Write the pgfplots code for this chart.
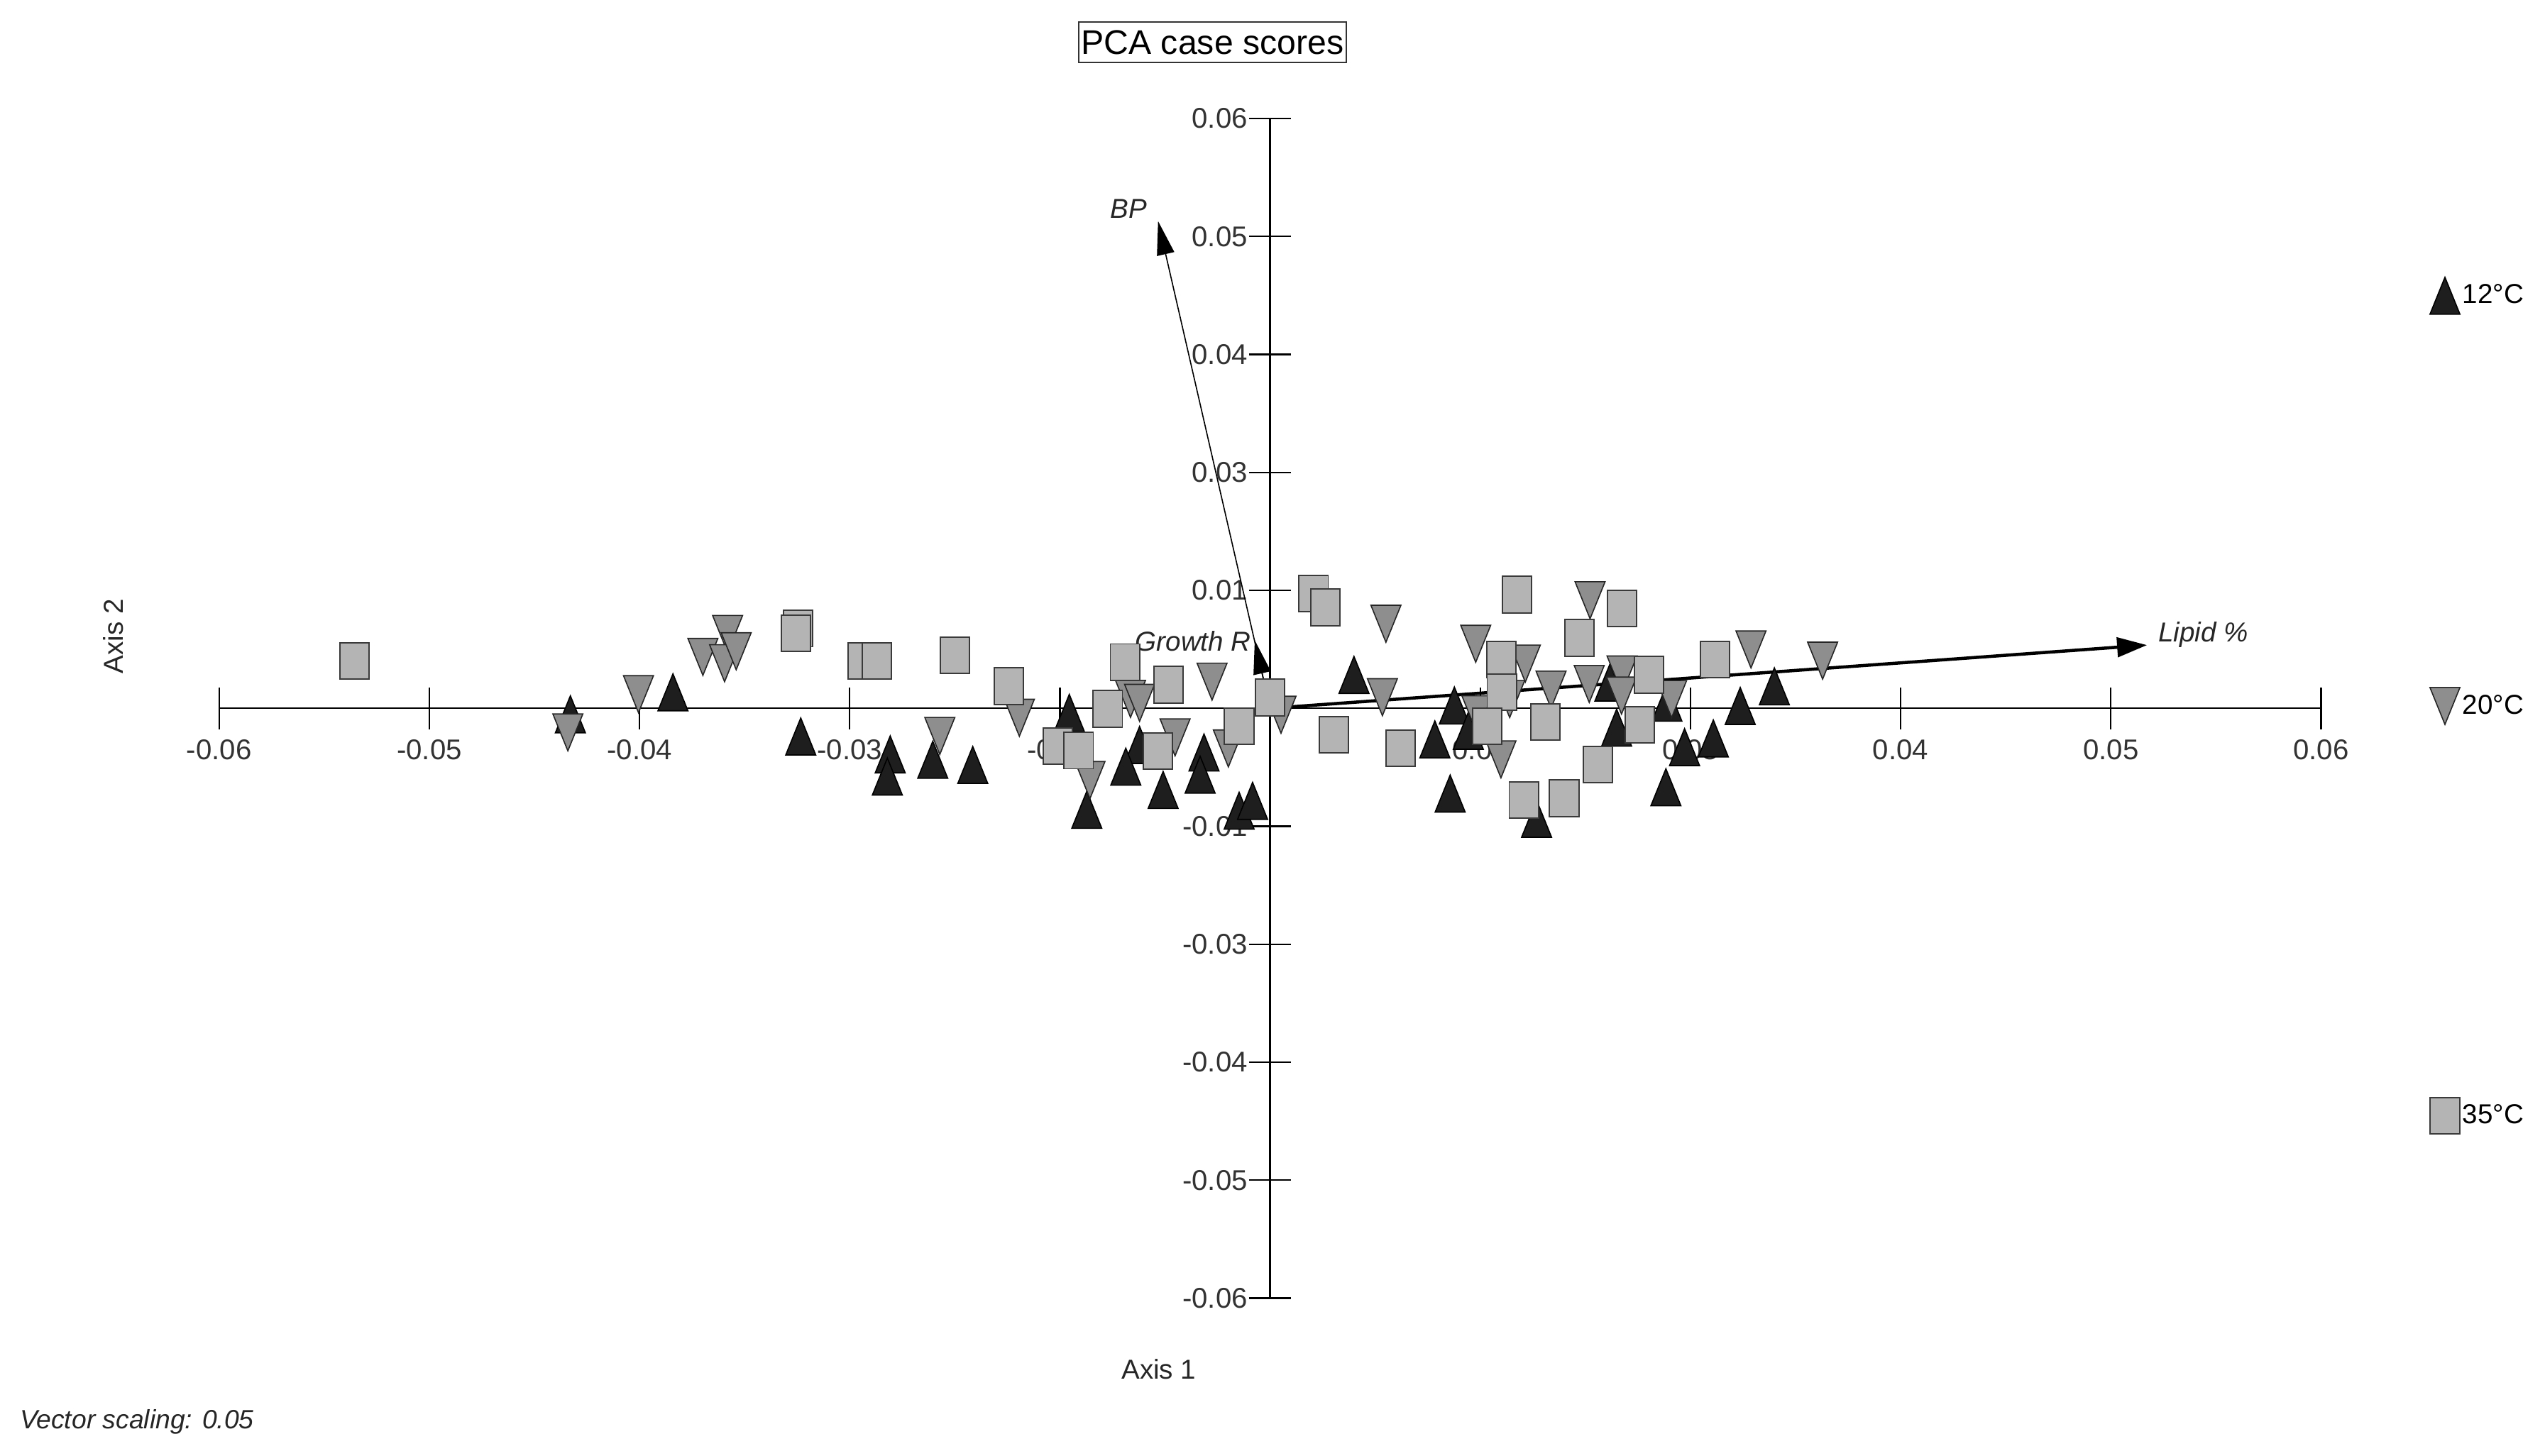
\documentclass[border=0pt]{standalone}
\usepackage{fontspec}
\setmainfont{Liberation Sans}
\usepackage{pgfplots}
\pgfplotsset{compat=1.18}
\usepackage{pgfplotstable}
\usetikzlibrary{arrows.meta}

\definecolor{c12}{HTML}{1E1E1E}
\definecolor{c20}{HTML}{8E8E8E}
\definecolor{c35}{HTML}{B4B4B4}
\definecolor{edge35}{HTML}{3A3A3A}

% markers: about 4.6mm wide, 5.7mm tall
\pgfdeclareplotmark{utri}{%
  \pgfpathmoveto{\pgfpoint{-2.31mm}{-2.85mm}}%
  \pgfpathlineto{\pgfpoint{2.31mm}{-2.85mm}}%
  \pgfpathlineto{\pgfpoint{0mm}{2.85mm}}%
  \pgfpathclose\pgfusepathqfillstroke}
\pgfdeclareplotmark{dtri}{%
  \pgfpathmoveto{\pgfpoint{-2.31mm}{2.85mm}}%
  \pgfpathlineto{\pgfpoint{2.31mm}{2.85mm}}%
  \pgfpathlineto{\pgfpoint{0mm}{-2.85mm}}%
  \pgfpathclose\pgfusepathqfillstroke}
\pgfdeclareplotmark{rect}{%
  \pgfpathrectangle{\pgfpoint{-2.25mm}{-2.8mm}}{\pgfpoint{4.5mm}{5.6mm}}%
  \pgfusepathqfillstroke}

\pgfplotsset{legmark/.style={legend image code/.code={\draw[##1] plot coordinates {(0cm,0cm)};}}}

% 12 C
\pgfplotstableread{
x y
-0.04161 -0.00063
-0.03551 0.00170
-0.02791 -0.00298
-0.02259 -0.00488
-0.02276 -0.00723
-0.02006 -0.00545
-0.01768 -0.00600
-0.01194 -0.00048
-0.01090 -0.01075
-0.00776 -0.00388
-0.00858 -0.00618
-0.00636 -0.00865
-0.00393 -0.00468
-0.00416 -0.00703
-0.00184 -0.01085
-0.00104 -0.00980
0.00499 0.00354
0.01096 0.00030
0.00980 -0.00329
0.01179 -0.00238
0.01071 -0.00903
0.01585 -0.01170
0.02021 0.00273
0.02061 -0.00205
0.02360 0.00060
0.02999 0.00233
0.02796 0.00025
0.02465 -0.00411
0.02636 -0.00319
0.02354 -0.00836
}\tT

% 20 C
\pgfplotstableread{
x y
-0.04176 -0.00255
-0.03756 0.00150
-0.03373 0.00545
-0.03226 0.00788
-0.03244 0.00478
-0.03175 0.00605
-0.01491 -0.00100
-0.01964 -0.00293
-0.01071 -0.00760
-0.00830 0.00100
-0.00776 0.00058
-0.00345 0.00283
-0.00565 -0.00308
-0.00248 -0.00425
0.00065 -0.00068
0.00689 0.00896
0.00668 0.00118
0.01223 0.00684
0.01518 0.00474
0.01425 0.00098
0.01230 -0.00063
0.01373 -0.00541
0.01671 0.00198
0.01903 0.01145
0.01898 0.00258
0.02093 0.00359
0.02090 0.00135
0.02388 0.00098
0.02860 0.00624
0.03286 0.00505
}\tD

% 35 C
\pgfplotstableread{
x y
-0.05444 0.00500
-0.02806 0.00845
-0.02821 0.00795
-0.02423 0.00500
-0.02340 0.00500
-0.01875 0.00563
-0.01554 0.00235
-0.01261 -0.00400
-0.01138 -0.00448
-0.00965 -0.00005
-0.00863 0.00490
-0.00604 0.00250
-0.00668 -0.00455
-0.00184 -0.00188
0.00000 0.00115
0.00259 0.01215
0.00330 0.01070
0.00380 -0.00280
0.00775 -0.00421
0.01468 0.01205
0.01375 0.00519
0.01378 0.00173
0.01291 -0.00190
0.01509 -0.00973
0.01749 -0.00953
0.01636 -0.00145
0.01841 0.00746
0.02093 0.01060
0.02254 0.00356
0.02200 -0.00173
0.01950 -0.00594
0.02646 0.00519
}\tS

\begin{document}
\begin{tikzpicture}
\useasboundingbox (-33.75mm,-24.25mm) rectangle (358.25mm,200mm);
\begin{axis}[
  at={(0,0)}, anchor=south west,
  scale only axis, width=323.75mm, height=181.75mm,
  xmin=-0.0625, xmax=0.0625, ymin=-0.0625, ymax=0.0625,
  scaled ticks=false,
  axis lines=middle,
  axis line style={-, line width=0.7pt, black},
  every tick/.style={black, line width=0.7pt},
  tick align=center, major tick length=6.5mm,
  xtick={-0.0625,-0.05,-0.0375,-0.025,-0.0125,0.0125,0.025,0.0375,0.05,0.0625},
  xticklabels={-0.06,-0.05,-0.04,-0.03,-0.01,0.01,0.03,0.04,0.05,0.06},
  ytick={-0.0625,-0.05,-0.0375,-0.025,-0.0125,0.0125,0.025,0.0375,0.05,0.0625},
  yticklabels={-0.06,-0.05,-0.04,-0.03,-0.01,0.01,0.03,0.04,0.05,0.06},
  tick label style={font=\fontsize{12.5}{14}\selectfont, inner sep=0pt, black!80},
  xticklabel style={anchor=north, yshift=-1.5mm},
  yticklabel style={anchor=east, xshift=-0.15mm},
  title={PCA case scores},
  every axis title shift=0pt,
  title style={at={(axis description cs:0.4726,1.0646)}, anchor=center,
    draw=black!80, line width=0.6pt, inner xsep=1pt, inner ysep=3.6pt,
    font=\fontsize{15}{18}\selectfont},
  xlabel={Axis 1}, ylabel={Axis 2},
  every axis x label/.style={at={(axis description cs:0.4471,-0.0605)}, anchor=center,
    font=\fontsize{12}{14}\selectfont, black!85},
  every axis y label/.style={at={(axis description cs:-0.0502,0.5612)}, anchor=center,
    rotate=90, font=\fontsize{12}{14}\selectfont, black!85},
  clip=false,
  legend style={at={(axis description cs:1.0516,0.8658)}, anchor=north west,
    draw=none, fill=none, inner sep=0pt, row sep=57.5mm, column sep=0.4mm,
    nodes={inner sep=0pt, anchor=west}, font=\fontsize{12}{14}\selectfont},
  legend cell align=left,
]
\addplot[only marks, mark=utri, mark options={fill=c12, draw=black, line width=0.5pt}, legmark] table {\tT};
\addlegendentry{12°C}
\addplot[only marks, mark=dtri, mark options={fill=c20, draw=black!85, line width=0.5pt}, legmark] table {\tD};
\addlegendentry{20°C}
\addplot[only marks, mark=rect, mark options={fill=c35, draw=edge35, line width=0.6pt}, legmark] table {\tS};
\addlegendentry{35°C}

% axis lines over the markers
\addplot[forget plot, black, line width=0.7pt] coordinates {(-0.0625,0) (0.0625,0)};
\addplot[forget plot, black, line width=0.7pt] coordinates {(0,-0.0625) (0,0.0625)};

% vectors
\addplot[forget plot, black, line width=0.5pt, -{Triangle[length=5.2mm,width=2.7mm]}] coordinates {(0,0) (-0.00666,0.05162)};
\addplot[forget plot, black, line width=0.5pt, -{Triangle[length=5.2mm,width=2.7mm]}] coordinates {(0,0) (-0.00091,0.00721)};
\addplot[forget plot, black, line width=1.4pt, -{Triangle[length=4.6mm,width=3mm]}] coordinates {(0,0) (0.05215,0.00670)};

\node[inner sep=0pt, font=\itshape\fontsize{12}{14}\selectfont, black!85] at (axis cs:-0.0084,0.0529) {BP};
\node[inner sep=0pt, anchor=east, font=\itshape\fontsize{12}{14}\selectfont, black!85] at (axis cs:-0.00111,0.00714) {Growth R};
\node[inner sep=0pt, anchor=west, font=\itshape\fontsize{12}{14}\selectfont, black!85] at (axis cs:0.0528,0.00783) {Lipid \%};
\node[inner sep=0pt, anchor=west, font=\itshape\fontsize{11.6}{14}\selectfont, black!85] at (rel axis cs:-0.095,-0.1045) {Vector scaling: 0.05};
\end{axis}
\end{tikzpicture}
\end{document}
